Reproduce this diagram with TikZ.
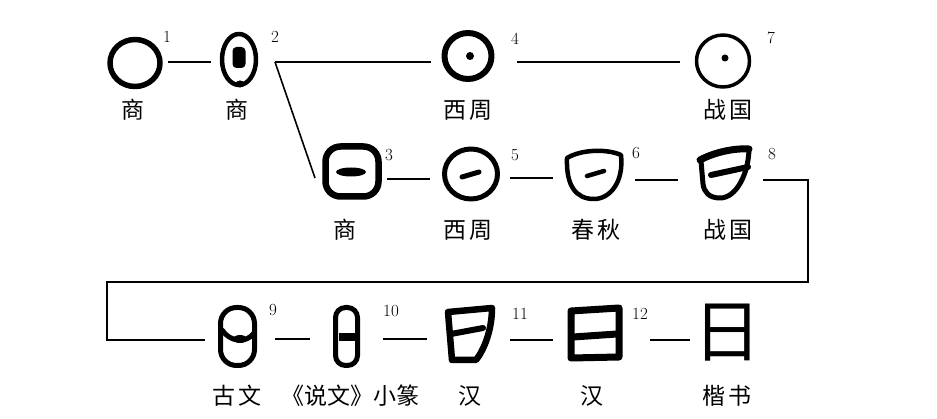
\documentclass[tikz,border=0pt]{standalone}
\usepackage{fontspec}
\newfontfamily\cjk{Noto Sans CJK SC}
\usetikzlibrary{calc}
\begin{document}
\begin{tikzpicture}[x=1pt,y=-1pt,
  gbox/.style={inner sep=0pt, outer sep=0pt, draw=none},
  conn/.style={line width=1.6pt},
  glyph/.style={line width=#1, line cap=round, line join=round},
  glyph/.default=5pt,
  lbl/.style={font=\cjk\fontsize{23}{25}\selectfont, inner sep=0pt},
  num/.style={font=\fontsize{17}{17}\selectfont, inner sep=0pt}]
\useasboundingbox[fill=white] (0,0) rectangle (937,419);

% ---------- glyph holders ----------
\node[gbox, minimum width=55pt, minimum height=52pt] (g1) at (135,63) {};
\node[gbox, minimum width=40pt, minimum height=56pt] (g2) at (238,60) {};
\node[gbox, minimum width=53pt, minimum height=52pt] (g4) at (468,56) {};
\node[gbox, minimum width=57pt, minimum height=55pt] (g7) at (723,61) {};
\node[gbox, minimum width=60pt, minimum height=57pt] (g3) at (352,171) {};
\node[gbox, minimum width=58pt, minimum height=55pt] (g5) at (471,174) {};
\node[gbox, minimum width=62pt, minimum height=55pt] (g6) at (594,175) {};
\node[gbox, minimum width=60pt, minimum height=59pt] (g8) at (727,172) {};
\node[gbox, minimum width=39pt, minimum height=63pt] (g9) at (237,337) {};
\node[gbox, minimum width=27pt, minimum height=63pt] (g10) at (346.5,337) {};
\node[gbox, minimum width=53pt, minimum height=60pt] (g11) at (471.5,333) {};
\node[gbox, minimum width=55pt, minimum height=57pt] (g12) at (594.5,334) {};
\node[gbox, font=\cjk\fontsize{68}{68}\selectfont] (g13) at (727,333) {日};

% ---------- glyph drawings ----------
% 1
\draw[glyph=5.5pt] (135,63) ellipse [x radius=25, y radius=23.5];
% 2
\draw[glyph=4.5pt] (239,59.5) ellipse [x radius=17, y radius=25.5];
\fill[rounded corners=4pt] (232.5,47) rectangle (245.5,68);
\fill (240,84) ellipse [x radius=4.5, y radius=3.5];
% 4
\draw[glyph=6pt] (468,56) ellipse [x radius=23.5, y radius=23];
\fill (470,56) circle [radius=4];
% 7
\draw[glyph=3.5pt] (723,61) ellipse [x radius=26.5, y radius=26];
\fill (725,58) circle [radius=3.5];
% 3
\draw[glyph=6.5pt, rounded corners=15pt] (325.5,146.5) rectangle (378.5,196.5);
\fill (351,172) ellipse [x radius=15, y radius=4.5];
% 5
\draw[glyph=5pt] (471,174) ellipse [x radius=26.5, y radius=25];
\draw[glyph=5pt] (462,177) -- (479,172);
% 6
\draw[glyph=4.5pt] (567,158) .. controls (582,149) and (608,149) .. (621,155)
  .. controls (624,182) and (610,199) .. (594,199)
  .. controls (576,199) and (566,186) .. (567,158) -- cycle;
\draw[glyph=4.5pt] (587,176) -- (604,171);
% 8
\draw[glyph=7pt] (700,160) .. controls (715,152) and (735,148) .. (749,149);
\draw[glyph=5pt] (749,150) .. controls (748,175) and (736,198) .. (720,198)
  .. controls (709,198) and (704,192) .. (703,184) -- (701,161);
\draw[glyph=6pt] (711,175) -- (748,167);
% 9
\draw[glyph=5pt, rounded corners=16pt] (220.5,307.5) rectangle (254.5,365.5);
\draw[glyph=5pt] (222,330) .. controls (230,342) and (246,344) .. (254,333);
\fill (240,339) ellipse [x radius=7, y radius=4];
% 10
\draw[glyph=5pt, rounded corners=10pt] (335.5,307.5) rectangle (357.5,365.5);
\fill (339,333.5) rectangle (355,341);
% 11
\draw[glyph=6.5pt] (448,312) -- (492,308) .. controls (492,330) and (484,350) .. (476,360)
  -- (452,360) -- cycle;
\draw[glyph=6pt] (451,334) -- (483,328);
% 12
\draw[glyph=7pt] (571,311) -- (619,308) -- (619,357) -- (571,358) -- cycle;
\draw[glyph=7pt] (573,337) -- (617,334);

% ---------- numbers ----------
\node[num] (n1) at (167,37) {1};
\node[num] (n2) at (275,37) {2};
\node[num] (n4) at (515,39) {4};
\node[num] (n7) at (771,38) {7};
\node[num] (n3) at (389,155) {3};
\node[num] (n5) at (515,155) {5};
\node[num] (n6) at (636,153) {6};
\node[num] (n8) at (772,154) {8};
\node[num] (n9) at (273,310) {9};
\node[num] (n10) at (391,311) {10};
\node[num] (n11) at (520,314) {11};
\node[num] (n12) at (640,314) {12};

% ---------- labels ----------
\node[lbl] (l1) at (133,110) {商};
\node[lbl] (l2) at (237,110) {商};
\node[lbl] (l4) at (468,110) {西\hspace{3pt}周};
\node[lbl] (l7) at (728,110) {战\hspace{3pt}国};
\node[lbl] (l3) at (345,230) {商};
\node[lbl] (l5) at (468,230) {西\hspace{3pt}周};
\node[lbl] (l6) at (596,230) {春\hspace{3pt}秋};
\node[lbl] (l8) at (728,230) {战\hspace{3pt}国};
\node[lbl] (l9) at (237,396) {古\hspace{4pt}文};
\node[lbl] (l10) at (350,396) {《说文》小篆};
\node[lbl] (l11) at (470,396) {汉};
\node[lbl] (l12) at (592,396) {汉};
\node[lbl] (l13) at (727,396) {楷\hspace{3pt}书};

% ---------- connectors ----------
\coordinate (j2) at ($(g2.east)+(17,2)$);
\draw[conn] ($(g1.east)+(5.5,-1)$) -- ($(g2.west)+(-7,2)$);
\draw[conn] (j2) -- ($(g4.west)+(-11,6)$);
\draw[conn] (j2) -- ($(g3.west)+(-7,7)$);
\draw[conn] ($(g4.east)+(22.5,6)$) -- ($(g7.west)+(-14.5,1)$);
\draw[conn] ($(g3.east)+(5,8)$) -- ($(g5.west)+(-12,5)$);
\draw[conn] ($(g5.east)+(10,4)$) -- ($(g6.west)+(-10,3)$);
\draw[conn] ($(g6.east)+(10,5)$) -- ($(g8.west)+(-19,8)$);
\coordinate (t1) at (808,180);
\coordinate (t2) at (808,282);
\coordinate (t3) at (107,282);
\coordinate (t4) at (107,340);
\draw[conn] ($(g8.east)+(6,8)$) -- (t1) -- (t2) -- (t3) -- (t4) -- ($(g9.west)+(-13,3)$);
\draw[conn] ($(g9.east)+(18.5,2)$) -- ($(g10.west)+(-23,2)$);
\draw[conn] ($(g10.east)+(23,2)$) -- ($(g11.west)+(-18,6)$);
\draw[conn] ($(g11.east)+(12,7)$) -- ($(g12.west)+(-14,6)$);
\draw[conn] ($(g12.east)+(28,6)$) -- ($(g13.center)+(-37,7)$);
\end{tikzpicture}
\end{document}
